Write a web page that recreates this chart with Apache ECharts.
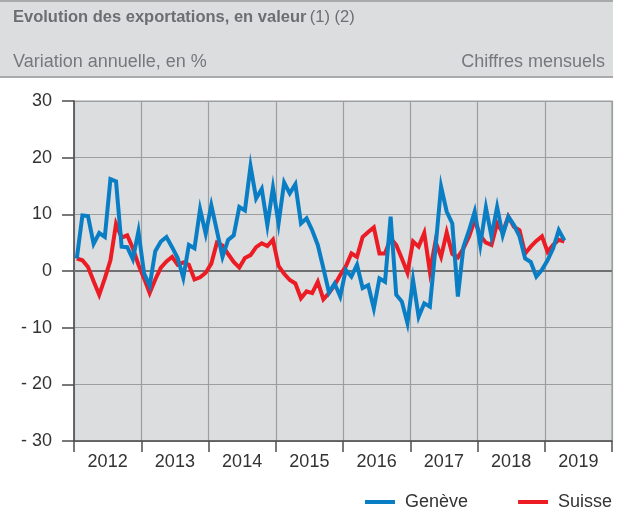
<!DOCTYPE html>
<html>
<head>
<meta charset="utf-8">
<script src="https://cdn.jsdelivr.net/npm/echarts@6/dist/echarts.min.js"></script>
<style>
    html, body { margin: 0; padding: 0; background: #fff; }
    #main { width: 627px; height: 510px; }
</style>
</head>
<body>
<div id="main"></div>
<script>
    // valeurs mensuelles, janvier 2012 -> avril 2019
    var years = ['2012', '2013', '2014', '2015', '2016', '2017', '2018', '2019'];
    var yTicks = ['30', '20', '10', '0', '- 10', '- 20', '- 30'];

    var geneve = [
        2.2, 9.8, 9.7, 4.8, 6.7, 6.0, 16.2, 15.8, 4.3, 4.2, 2.1, 7.0,
        -0.4, -2.6, 3.5, 5.2, 6.0, 4.2, 2.3, -1.2, 4.6, 4.0, 10.9, 6.6,
        11.6, 7.1, 2.5, 5.5, 6.3, 11.3, 10.7, 18.5, 12.8, 14.5, 8.1, 14.7,
        8.4, 15.6, 13.7, 15.3, 8.4, 9.3, 7.2, 4.6, 0.5, -3.8, -2.2, -4.5,
        0.2, -1.0, 1.1, -3.0, -2.5, -6.6, -1.3, -1.9, 9.6, -4.2, -5.4, -9.2,
        -1.6, -8.1, -5.7, -6.3, 4.0, 14.9, 10.5, 8.4, -4.5, 4.3, 7.2, 10.5,
        4.6, 11.2, 6.1, 11.3, 6.3, 9.6, 8.1, 6.1, 2.2, 1.6, -1.0, 0.2,
        1.9, 4.0, 7.2, 5.4
    ];
    var suisse = [
        2.2, 1.9, 0.7, -1.8, -4.2, -1.3, 1.9, 8.3, 5.9, 6.3, 4.0, 1.1,
        -1.3, -3.9, -1.5, 0.6, 1.7, 2.5, 1.1, 1.5, 1.1, -1.5, -1.1, -0.3,
        1.3, 5.0, 4.5, 3.0, 1.6, 0.6, 2.3, 2.8, 4.2, 4.9, 4.4, 5.5,
        0.9, -0.5, -1.6, -2.2, -4.8, -3.6, -3.9, -1.9, -5.0, -3.9, -2.5, -0.7,
        0.8, 3.1, 2.5, 6.0, 6.9, 7.7, 3.1, 3.1, 5.8, 4.6, 2.2, -0.3,
        5.2, 4.3, 6.7, -0.1, 5.2, 2.5, 6.8, 3.0, 2.4, 4.0, 6.1, 9.0,
        6.2, 5.0, 4.6, 8.4, 6.8, 9.6, 7.8, 7.2, 3.1, 4.3, 5.3, 6.1,
        3.4, 4.6, 5.5, 5.2
    ];

    // chaque mois est placé au milieu de sa case
    function toPoints(arr) {
        return arr.map(function (v, i) { return [i + 0.5, v]; });
    }

    var labelMap = {};
    [30, 20, 10, 0, -10, -20, -30].forEach(function (v, i) { labelMap[v] = yTicks[i]; });

    var myChart = echarts.init(document.getElementById('main'), null, { renderer: 'canvas' });
    var font = 'Liberation Sans, Arial, sans-serif';
    var gridColor = '#9d9ea0';

    var option = {
        animation: false,
        textStyle: { fontFamily: font },
        graphic: [
            { type: 'rect', shape: { x: 0, y: 0, width: 613, height: 77 }, style: { fill: '#dcdddf' }, z: -1 },
            { type: 'line', shape: { x1: 0, y1: 1, x2: 613, y2: 1 }, style: { stroke: '#a9aaac', lineWidth: 2 } },
            { type: 'line', shape: { x1: 0, y1: 77, x2: 613, y2: 77 }, style: { stroke: '#a9aaac', lineWidth: 2 } },
            {
                type: 'text', left: 13, top: 9,
                style: {
                    text: '{b|Evolution des exportations, en valeur} {n|(1) (2)}',
                    rich: {
                        b: { fontSize: 16.5, fontWeight: 'bold', fill: '#6d6e71', fontFamily: font },
                        n: { fontSize: 16.5, fill: '#6d6e71', fontFamily: font }
                    }
                }
            },
            { type: 'text', left: 13, top: 53, style: { text: 'Variation annuelle, en %', fontSize: 18, fill: '#77787b', fontFamily: font } },
            { type: 'text', right: 22, top: 53, style: { text: 'Chiffres mensuels', fontSize: 18, fill: '#77787b', fontFamily: font } }
        ],
        grid: {
            left: 74, right: 15, top: 101, bottom: 69,
            show: true, backgroundColor: '#dcdddf', borderColor: gridColor, borderWidth: 1.2
        },
        legend: {
            left: 360, top: 488,
            icon: 'rect', itemWidth: 30, itemHeight: 4, itemGap: 50,
            textStyle: { fontSize: 18, color: '#333', fontFamily: font, padding: [0, 0, 0, 5] },
            data: ['Genève', 'Suisse']
        },
        xAxis: [
            {
                type: 'value', min: 0, max: 96, interval: 12,
                axisLine: { show: true, onZero: false, lineStyle: { color: '#4d4d4f', width: 1.5 } },
                axisTick: { show: true, length: 11, lineStyle: { color: '#4d4d4f', width: 1.5 } },
                axisLabel: { show: false },
                splitLine: { show: true, lineStyle: { color: gridColor, width: 1.2 } }
            },
            {
                type: 'category', data: years, position: 'bottom', boundaryGap: true,
                axisLine: { show: false, onZero: false }, axisTick: { show: false }, splitLine: { show: false },
                axisLabel: { fontSize: 18, color: '#333', margin: 12, fontFamily: font }
            }
        ],
        yAxis: {
            type: 'value', min: -30, max: 30, interval: 10,
            axisLine: { show: true, onZero: false, lineStyle: { color: '#4d4d4f', width: 1.5 } },
            axisTick: { show: true, length: 12, lineStyle: { color: '#4d4d4f', width: 1.5 } },
            axisLabel: {
                fontSize: 18, color: '#333', margin: 22, fontFamily: font,
                formatter: function (v) { return labelMap[v]; }
            },
            splitLine: { show: true, lineStyle: { color: gridColor, width: 1.2 } }
        },
        series: [
            {
                name: 'Genève', type: 'line', data: toPoints(geneve),
                showSymbol: false, symbol: 'none', z: 3,
                lineStyle: { color: '#0a7ec4', width: 4, join: 'miter' },
                itemStyle: { color: '#0a7ec4' },
                markLine: {
                    silent: true, symbol: ['none', 'none'], label: { show: false },
                    lineStyle: { color: '#6f7072', width: 2, type: 'solid' },
                    data: [{ yAxis: 0 }], z: 1
                }
            },
            {
                name: 'Suisse', type: 'line', data: toPoints(suisse),
                showSymbol: false, symbol: 'none', z: 2,
                lineStyle: { color: '#ec1c24', width: 4, join: 'miter' },
                itemStyle: { color: '#ec1c24' }
            }
        ]
    };
    myChart.setOption(option);
</script>
</body>
</html>
